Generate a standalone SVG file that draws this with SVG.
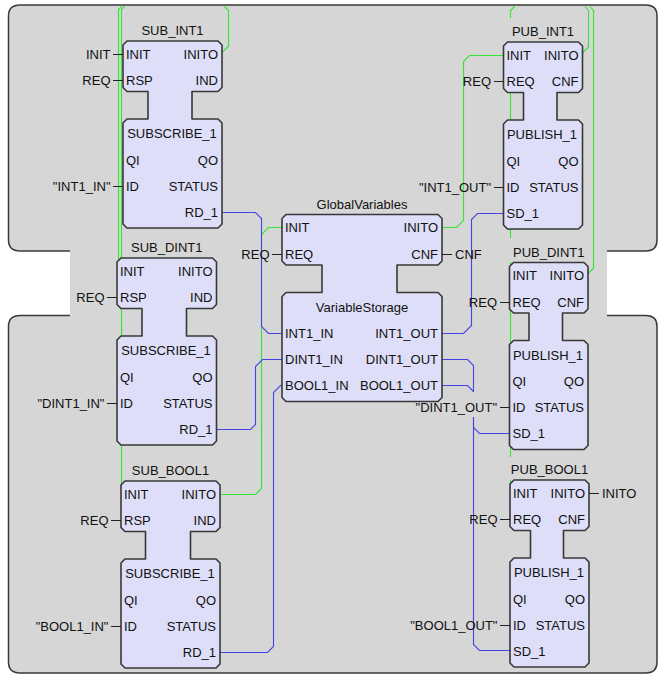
<svg xmlns="http://www.w3.org/2000/svg" width="659" height="675" viewBox="0 0 659 675">
<style>
.t{font-family:"Liberation Sans",Arial,sans-serif;font-size:13px;fill:#111}
.r{text-anchor:end}
.m{text-anchor:middle}
.fb{fill:#dedef8;stroke:#383838;stroke-width:1.6;stroke-linejoin:round}
.ev{fill:none;stroke:#33e633;stroke-width:1.1}
.dt{fill:none;stroke:#4444e6;stroke-width:1.1}
.pl{fill:none;stroke:#222;stroke-width:1;shape-rendering:crispEdges}
</style>
<rect x="0" y="0" width="659" height="675" fill="#ffffff"/>
<g id="background">
<path d="M20,5 H646 Q657,5 657,16 V240 Q657,251 646,251 H607 V315.5 H646 Q657,315.5 657,326.5 V662 Q657,673 646,673 H20 Q8.5,673 8.5,662 V326.5 Q8.5,315.5 20,315.5 H70 V251 H20 Q8.5,251 8.5,240 V16 Q8.5,5 20,5 Z" fill="#d6d6d6"/>
<path d="M607,251 H646 Q657,251 657,240 V16 Q657,5 646,5 H20 Q8.5,5 8.5,16 V240 Q8.5,251 20,251 H70 M70,315.5 H20 Q8.5,315.5 8.5,326.5 V662 Q8.5,673 20,673 H646 Q657,673 657,662 V326.5 Q657,315.5 646,315.5 H607" fill="none" stroke="#3a3a3a" stroke-width="1.5"/>
</g>
<g id="connectors">
<path class="ev" d="M121.5,6.5 L118.5,9.5 V271.5"/>
<path class="ev" d="M124.5,6.5 L121.5,9.5 V494.5"/>
<path class="ev" d="M220,54.5 L228.5,46 V10.5 L224.5,6.5"/>
<path class="ev" d="M220,494.5 H255.5 L261.5,488.5 V234.5 L268.5,227.5 H282"/>
<path class="ev" d="M442,227.5 H456.5 L463.5,220.5 V61.5 L469.5,55.5 H503.5"/>
<path class="ev" d="M580,55.5 L588.5,47 V10.5 L585,6.5"/>
<path class="ev" d="M586,275.5 L593.5,268 V10.5 L590,6.5"/>
<path class="ev" d="M514.5,6.5 L510.5,10.5 V18 M510.5,42 V238 M510.5,262 V457 M510.5,480 V494"/>
<path class="dt" d="M222,212.5 H255.5 L261.5,218.5 V326.5 L268.5,333.5 H282"/>
<path class="dt" d="M216.5,429.5 H250.5 L255.5,424.5 V366.5 L262.5,359.5 H282"/>
<path class="dt" d="M220,652.5 H267.5 L273.5,646.5 V392.5 L280.5,385.5 H282"/>
<path class="dt" d="M442,333.5 H463.5 L471.5,325.5 V219.5 L477.5,213.5 H503.5"/>
<path class="dt" d="M442,359.5 H467.5 L473.5,365.5 V392 M473.5,417 V427.5 L479.5,433.5 H509.5"/>
<path class="dt" d="M442,385.5 H467.5 L473.5,391.5 M473.5,417 V644.5 L479.5,650.5 H510"/>
</g>
<g id="SUB_INT1">
<path class="fb" d="M127,41 H218 L222,45 V87.5 L218,91.5 H192 V119 H218 L222,123 V224 L218,228 H127 L123,224 V123 L127,119 H148 V91.5 H127 L123,87.5 V45 Z"/>
<text class="t m" x="172.5" y="35.3">SUB_INT1</text>
<text class="t" x="126" y="58.6">INIT</text><text class="t r" x="218" y="58.6">INITO</text>
<text class="t" x="126" y="85.1">RSP</text><text class="t r" x="218" y="85.1">IND</text>
<text class="t m" x="172" y="138.1">SUBSCRIBE_1</text>
<text class="t" x="126" y="164.6">QI</text><text class="t r" x="218" y="164.6">QO</text>
<text class="t" x="126" y="190.6">ID</text><text class="t r" x="218" y="190.6">STATUS</text>
<text class="t r" x="218" y="216.6">RD_1</text>
<text class="t r" x="110.5" y="58.6">INIT</text><path class="pl" d="M113,54 H123"/>
<text class="t r" x="110.5" y="85.1">REQ</text><path class="pl" d="M113,80.5 H123"/>
<text class="t r" x="110.5" y="190.6">"INT1_IN"</text><path class="pl" d="M113,186 H123"/>
</g>
<g id="SUB_DINT1">
<path class="fb" d="M121,258 H212.5 L216.5,262 V304.5 L212.5,308.5 H186.5 V336 H212.5 L216.5,340 V441 L212.5,445 H121 L117,441 V340 L121,336 H142 V308.5 H121 L117,304.5 V262 Z"/>
<text class="t m" x="166.75" y="252.3">SUB_DINT1</text>
<text class="t" x="120" y="275.6">INIT</text><text class="t r" x="212.5" y="275.6">INITO</text>
<text class="t" x="120" y="302.1">RSP</text><text class="t r" x="212.5" y="302.1">IND</text>
<text class="t m" x="166" y="355.1">SUBSCRIBE_1</text>
<text class="t" x="120" y="381.6">QI</text><text class="t r" x="212.5" y="381.6">QO</text>
<text class="t" x="120" y="407.6">ID</text><text class="t r" x="212.5" y="407.6">STATUS</text>
<text class="t r" x="212.5" y="433.6">RD_1</text>
<text class="t r" x="104.5" y="302.1">REQ</text><path class="pl" d="M107,297.5 H117"/>
<text class="t r" x="104.5" y="407.6">"DINT1_IN"</text><path class="pl" d="M107,403 H117"/>
</g>
<g id="SUB_BOOL1">
<path class="fb" d="M125,481 H216 L220,485 V527.5 L216,531.5 H190.5 V559 H216 L220,563 V664 L216,668 H125 L121,664 V563 L125,559 H145.5 V531.5 H125 L121,527.5 V485 Z"/>
<text class="t m" x="170.5" y="475.3">SUB_BOOL1</text>
<text class="t" x="124" y="498.6">INIT</text><text class="t r" x="216" y="498.6">INITO</text>
<text class="t" x="124" y="525.1">RSP</text><text class="t r" x="216" y="525.1">IND</text>
<text class="t m" x="170" y="578.1">SUBSCRIBE_1</text>
<text class="t" x="124" y="604.6">QI</text><text class="t r" x="216" y="604.6">QO</text>
<text class="t" x="124" y="630.6">ID</text><text class="t r" x="216" y="630.6">STATUS</text>
<text class="t r" x="216" y="656.6">RD_1</text>
<text class="t r" x="108.5" y="525.1">REQ</text><path class="pl" d="M111,520.5 H121"/>
<text class="t r" x="108.5" y="630.6">"BOOL1_IN"</text><path class="pl" d="M111,626 H121"/>
</g>
<g id="GlobalVariables">
<path class="fb" d="M286,214.5 H438 L442,218.5 V261 L438,265 H397 V292.5 H438 L442,296.5 V397.5 L438,401.5 H286 L282,397.5 V296.5 L286,292.5 H322 V265 H286 L282,261 V218.5 Z"/>
<text class="t m" x="362" y="208.8">GlobalVariables</text>
<text class="t" x="285" y="232.1">INIT</text><text class="t r" x="438" y="232.1">INITO</text>
<text class="t" x="285" y="258.6">REQ</text><text class="t r" x="438" y="258.6">CNF</text>
<text class="t m" x="362" y="311.6">VariableStorage</text>
<text class="t" x="285" y="338.1">INT1_IN</text><text class="t r" x="438" y="338.1">INT1_OUT</text>
<text class="t" x="285" y="364.1">DINT1_IN</text><text class="t r" x="438" y="364.1">DINT1_OUT</text>
<text class="t" x="285" y="390.1">BOOL1_IN</text><text class="t r" x="438" y="390.1">BOOL1_OUT</text>
<text class="t r" x="269.5" y="258.6">REQ</text><path class="pl" d="M272,254 H282"/>
<text class="t" x="455" y="258.6">CNF</text><path class="pl" d="M442,254 H452"/>
</g>
<g id="PUB_INT1">
<path class="fb" d="M507.5,42 H578.5 L582.5,46 V88.5 L578.5,92.5 H557 V120 H578.5 L582.5,124 V225 L578.5,229 H507.5 L503.5,225 V124 L507.5,120 H523.5 V92.5 H507.5 L503.5,88.5 V46 Z"/>
<text class="t m" x="543" y="36.3">PUB_INT1</text>
<text class="t" x="506.5" y="59.6">INIT</text><text class="t r" x="578.5" y="59.6">INITO</text>
<text class="t" x="506.5" y="86.1">REQ</text><text class="t r" x="578.5" y="86.1">CNF</text>
<text class="t m" x="542" y="139.1">PUBLISH_1</text>
<text class="t" x="506.5" y="165.6">QI</text><text class="t r" x="578.5" y="165.6">QO</text>
<text class="t" x="506.5" y="191.6">ID</text><text class="t r" x="578.5" y="191.6">STATUS</text>
<text class="t" x="506.5" y="217.6">SD_1</text>
<text class="t r" x="491" y="86.1">REQ</text><path class="pl" d="M493.5,81.5 H503.5"/>
<text class="t r" x="491" y="191.6">"INT1_OUT"</text><path class="pl" d="M493.5,187 H503.5"/>
</g>
<g id="PUB_DINT1">
<path class="fb" d="M513.5,262.5 H584 L588,266.5 V309 L584,313 H562.5 V340.5 H584 L588,344.5 V445.5 L584,449.5 H513.5 L509.5,445.5 V344.5 L513.5,340.5 H529 V313 H513.5 L509.5,309 V266.5 Z"/>
<text class="t m" x="548.75" y="256.8">PUB_DINT1</text>
<text class="t" x="512.5" y="280.1">INIT</text><text class="t r" x="584" y="280.1">INITO</text>
<text class="t" x="512.5" y="306.6">REQ</text><text class="t r" x="584" y="306.6">CNF</text>
<text class="t m" x="548" y="359.6">PUBLISH_1</text>
<text class="t" x="512.5" y="386.1">QI</text><text class="t r" x="584" y="386.1">QO</text>
<text class="t" x="512.5" y="412.1">ID</text><text class="t r" x="584" y="412.1">STATUS</text>
<text class="t" x="512.5" y="438.1">SD_1</text>
<text class="t r" x="497" y="306.6">REQ</text><path class="pl" d="M499.5,302 H509.5"/>
<text class="t r" x="497" y="412.1">"DINT1_OUT"</text><path class="pl" d="M499.5,407.5 H509.5"/>
</g>
<g id="PUB_BOOL1">
<path class="fb" d="M514,480 H585 L589,484 V526.5 L585,530.5 H563.5 V558 H585 L589,562 V663 L585,667 H514 L510,663 V562 L514,558 H530.5 V530.5 H514 L510,526.5 V484 Z"/>
<text class="t m" x="549.5" y="474.3">PUB_BOOL1</text>
<text class="t" x="513" y="497.6">INIT</text><text class="t r" x="585" y="497.6">INITO</text>
<text class="t" x="513" y="524.1">REQ</text><text class="t r" x="585" y="524.1">CNF</text>
<text class="t m" x="549" y="577.1">PUBLISH_1</text>
<text class="t" x="513" y="603.6">QI</text><text class="t r" x="585" y="603.6">QO</text>
<text class="t" x="513" y="629.6">ID</text><text class="t r" x="585" y="629.6">STATUS</text>
<text class="t" x="513" y="655.6">SD_1</text>
<text class="t r" x="497.5" y="524.1">REQ</text><path class="pl" d="M500,519.5 H510"/>
<text class="t r" x="497.5" y="629.6">"BOOL1_OUT"</text><path class="pl" d="M500,625 H510"/>
<text class="t" x="602" y="497.6">INITO</text><path class="pl" d="M589,493 H599"/>
</g>
</svg>
